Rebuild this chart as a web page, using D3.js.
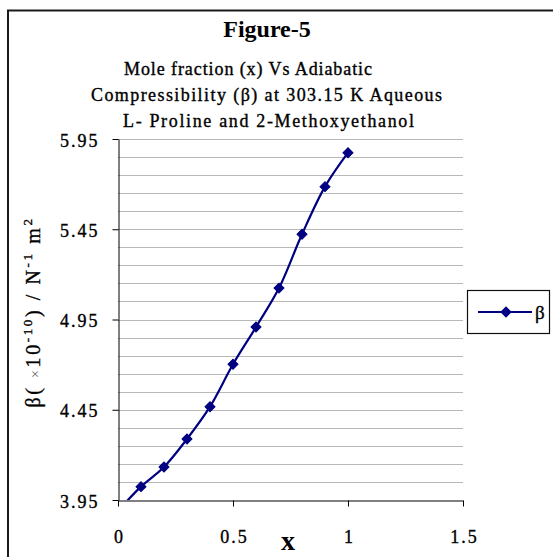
<!DOCTYPE html>
<html>
<head>
<meta charset="utf-8">
<script src="https://cdn.jsdelivr.net/npm/d3@7"></script>
<style>
  html, body { margin: 0; padding: 0; background: #fff; }
  svg { display: block; }
  text { font-family: "Liberation Serif", "Times New Roman", serif; fill: #000; }
  .heavy { stroke: #000; stroke-width: 0.35px; }
</style>
</head>
<body>
<svg id="chart" width="553" height="557"></svg>
<script>
// ---- data ----
const moleFraction = [0, 0.1, 0.2, 0.3, 0.4, 0.5, 0.6, 0.7, 0.8, 0.9, 1.0];
const beta = [3.89, 4.024, 4.133, 4.288, 4.467, 4.702, 4.908, 5.124, 5.422, 5.686, 5.874];
const seriesName = "β";
const yTickValues = [3.95, 4.45, 4.95, 5.45, 5.95];
const xTickValues = [0, 0.5, 1, 1.5];
const titleText = "Figure-5";
const subtitleLines = [
  "Mole fraction (x) Vs Adiabatic",
  "Compressibility (β) at 303.15 K Aqueous",
  "L- Proline and 2-Methoxyethanol"
];

const svg = d3.select("#chart");

// outer frame (cropped on right and bottom)
svg.append("rect")
  .attr("x", 8).attr("y", 10.5).attr("width", 600).attr("height", 600)
  .attr("fill", "#fff").attr("stroke", "#1a1a1a").attr("stroke-width", 2);

// scales
const x = d3.scaleLinear().domain([0, 1.5]).range([118, 463]);
const y = d3.scaleLinear().domain([3.95, 5.95]).range([500, 139]);

// title
svg.append("text").attr("x", 267).attr("y", 37)
  .attr("text-anchor", "middle").attr("font-size", 24).attr("font-weight", "bold")
  .text(titleText);

const subCenters = [248, 266.5, 268.5];
const subWidths = [248, 351, 291];
const subBase = [75, 101, 127];
subtitleLines.forEach((s, i) => {
  svg.append("text").attr("class", "heavy")
    .attr("x", subCenters[i]).attr("y", subBase[i])
    .attr("text-anchor", "middle").attr("font-size", 18)
    .attr("textLength", subWidths[i]).attr("lengthAdjust", "spacing")
    .text(s);
});

// gridlines every 0.1
const gridVals = d3.range(0, 20).map(i => +(4.05 + i * 0.1).toFixed(2));
svg.append("g").selectAll("line").data(gridVals).join("line")
  .attr("x1", x(0)).attr("x2", x(1.5))
  .attr("y1", d => Math.round(y(d)) + 0.5).attr("y2", d => Math.round(y(d)) + 0.5)
  .attr("stroke", "#b8b8b8").attr("stroke-width", 1);

// axes
const yAxis = d3.axisLeft(y).tickValues(yTickValues).tickSize(6).tickSizeOuter(0)
  .tickFormat(d3.format(".2f"));
const gy = svg.append("g").attr("transform", `translate(${x(0) + 0.5},0)`).call(yAxis);
gy.select(".domain").attr("stroke", "#000");
gy.selectAll(".tick line").attr("stroke", "#000");
gy.selectAll(".tick text").attr("class", "heavy")
  .attr("x", -19).attr("dy", null).attr("y", 7)
  .attr("font-size", 18).attr("letter-spacing", "2px")
  .attr("font-family", "Liberation Serif").attr("fill", "#000");

const xAxis = d3.axisBottom(x).tickValues(xTickValues).tickSize(6).tickSizeOuter(0)
  .tickFormat(d3.format(""));
const gx = svg.append("g").attr("transform", `translate(0,${y(3.95) + 0.5})`).call(xAxis);
gx.select(".domain").attr("stroke", "#000");
gx.selectAll(".tick line").attr("stroke", "#000");
gx.selectAll(".tick text").attr("class", "heavy")
  .attr("y", 42).attr("dy", null).attr("dx", 1)
  .attr("font-size", 18).attr("letter-spacing", "2px")
  .attr("font-family", "Liberation Serif").attr("fill", "#000");

// axis titles
svg.append("text").attr("x", 288).attr("y", 550)
  .attr("text-anchor", "middle").attr("font-size", 28).attr("font-weight", "bold")
  .text("x");

const yt = svg.append("text").attr("class", "heavy")
  .attr("transform", "translate(40,312) rotate(-90)")
  .attr("text-anchor", "middle").attr("font-size", 20).attr("letter-spacing", "2.6px");
yt.append("tspan").text("β( ");
yt.append("tspan").attr("font-size", 14).attr("fill", "#666").attr("stroke", "none").text("×");
yt.append("tspan").text("10");
yt.append("tspan").attr("font-size", 13).attr("dy", -8).text("-10");
yt.append("tspan").attr("dy", 8).text(") / N");
yt.append("tspan").attr("font-size", 13).attr("dy", -8).text("-1");
yt.append("tspan").attr("dy", 8).text(" m");
yt.append("tspan").attr("font-size", 13).attr("dy", -8).text("2");

// clip path for plot area
svg.append("clipPath").attr("id", "plotClip")
  .append("rect").attr("x", x(0)).attr("y", y(5.95) - 6)
  .attr("width", x(1.5) - x(0)).attr("height", y(3.95) - y(5.95) + 6);

const pts = moleFraction.map((m, i) => [m, beta[i]]);
const navy = "#000080";
const plot = svg.append("g").attr("clip-path", "url(#plotClip)");

plot.append("path").datum(pts)
  .attr("fill", "none").attr("stroke", navy).attr("stroke-width", 2.2)
  .attr("d", d3.line().x(d => x(d[0])).y(d => y(d[1])).curve(d3.curveCatmullRom.alpha(0.5)));

const diamond = d3.symbol().type(d3.symbolSquare).size(50);
plot.selectAll("path.mk").data(pts.filter(d => d[1] >= 3.95)).join("path")
  .attr("class", "mk")
  .attr("d", diamond)
  .attr("transform", d => `translate(${x(d[0])},${y(d[1])}) rotate(45)`)
  .attr("fill", navy).attr("stroke", navy).attr("stroke-width", 1);

// legend
const lg = svg.append("g").attr("transform", "translate(467,290)");
lg.append("rect").attr("x", 0.5).attr("y", 0.5).attr("width", 82).attr("height", 43)
  .attr("fill", "#fff").attr("stroke", "#111").attr("stroke-width", 1.2);
lg.append("line").attr("x1", 11).attr("x2", 65).attr("y1", 22).attr("y2", 22)
  .attr("stroke", navy).attr("stroke-width", 2.2);
lg.append("path").attr("d", diamond).attr("transform", "translate(39,22) rotate(45)")
  .attr("fill", navy).attr("stroke", navy);
lg.append("text").attr("class", "heavy").attr("x", 68).attr("y", 29).attr("font-size", 19).text(seriesName);
</script>
</body>
</html>
